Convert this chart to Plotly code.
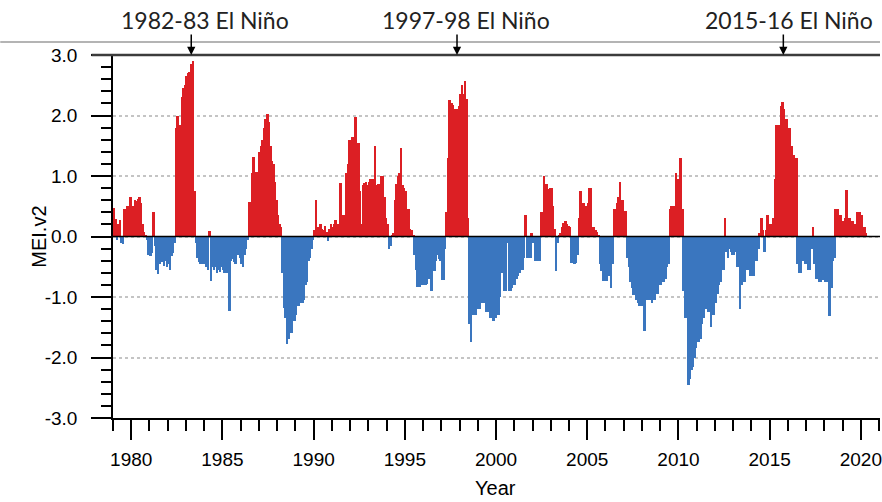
import numpy as np
import plotly.graph_objects as go

# Monthly MEI.v2 values, Jan..Dec of each year
mei_1979 = [0.47, 0.29, -0.05, 0.21, 0.27, -0.11, -0.13, 0.45, 0.38, 0.5, 0.45, 0.66]
mei_1980 = [0.35, 0.5, 0.6, 0.58, 0.62, 0.65, 0.55, 0.2, 0.08, 0.03, -0.05, -0.3]
mei_1981 = [-0.32, -0.28, 0.4, -0.15, -0.55, -0.62, -0.45, -0.3, -0.42, -0.48, -0.4, -0.5]
mei_1982 = [-0.45, -0.55, -0.33, -0.28, -0.1, 1.8, 2.0, 1.85, 1.85, 2.3, 2.45, 2.5]
mei_1983 = [2.65, 2.7, 2.72, 2.85, 2.9, 0.75, -0.1, -0.35, -0.42, -0.45, -0.42, -0.45]
mei_1984 = [-0.45, -0.5, -0.55, 0.09, -0.73, -0.5, -0.55, -0.5, -0.6, -0.55, -0.58, -0.5]
mei_1985 = [-0.55, -0.6, -0.5, -0.6, -1.23, -0.4, -0.38, -0.42, -0.45, -0.2, -0.3, -0.35]
mei_1986 = [-0.45, -0.5, -0.3, -0.2, -0.05, 0.57, 0.57, 1.05, 1.32, 1.05, 1.07, 1.07]
mei_1987 = [1.4, 1.5, 1.6, 1.8, 1.95, 2.03, 1.9, 1.5, 1.25, 1.2, 0.9, 0.6]
mei_1988 = [0.35, 0.2, 0.15, -0.6, -1.18, -1.35, -1.78, -1.7, -1.6, -1.6, -1.4, -1.4]
mei_1989 = [-1.3, -1.15, -1.15, -1.1, -1.1, -1.05, -0.8, -0.75, -0.4, -0.35, -0.2, -0.05]
mei_1990 = [0.1, 0.6, 0.15, 0.1, 0.2, 0.12, 0.1, 0.18, 0.08, -0.07, 0.12, 0.2]
mei_1991 = [0.15, 0.2, 0.27, 0.2, 0.2, 0.88, 0.35, 0.35, 0.3, 1.05, 1.2, 1.6]
mei_1992 = [1.6, 1.65, 1.65, 1.98, 1.55, 1.55, 0.75, 0.2, 0.85, 0.88, 0.9, 0.85]
mei_1993 = [0.9, 0.95, 0.95, 0.95, 1.5, 0.85, 0.87, 0.85, 1.0, 1.0, 0.65, 0.3]
mei_1994 = [0.2, -0.2, -0.15, 0.03, 0.05, 0.6, 0.87, 1.0, 1.05, 1.47, 0.85, 0.8]
mei_1995 = [0.75, 0.45, 0.45, 0.12, 0.1, 0.02, -0.3, -0.55, -0.84, -0.84, -0.8, -0.8]
mei_1996 = [-0.8, -0.8, -0.78, -0.7, -0.7, -0.9, -0.57, -0.57, -0.4, -0.3, -0.38, -0.4]
mei_1997 = [-0.72, -0.72, -0.2, 0.4, 1.3, 2.25, 2.2, 2.18, 2.1, 2.05, 2.1, 2.15]
mei_1998 = [2.35, 2.5, 2.35, 2.57, 2.28, 0.3, -1.45, -1.75, -1.3, -1.3, -1.3, -1.2]
mei_1999 = [-1.2, -1.2, -1.1, -1.1, -1.1, -1.25, -1.25, -1.25, -1.35, -1.35, -1.4, -1.35]
mei_2000 = [-1.25, -1.3, -1.0, -0.6, -0.57, -0.9, -0.9, -0.1, -0.9, -0.9, -0.85, -0.8]
mei_2001 = [-0.8, -0.7, -0.65, -0.6, -0.55, -0.55, -0.35, 0.35, -0.35, -0.3, -0.35, 0.05]
mei_2002 = [-0.1, -0.4, -0.4, -0.35, -0.4, 0.4, 0.4, 1.0, 0.87, 0.87, 0.78, 0.8]
mei_2003 = [0.8, 0.5, 0.12, -0.57, -0.1, 0.03, 0.05, 0.15, 0.22, 0.25, 0.2, 0.18]
mei_2004 = [0.15, -0.43, -0.4, -0.45, -0.43, -0.3, 0.3, 0.75, 0.55, 0.55, 0.5, 0.5]
mei_2005 = [0.55, 0.8, 0.8, 0.15, 0.15, 0.1, 0.08, 0.02, -0.45, -0.57, -0.73, -0.73]
mei_2006 = [-0.73, -0.65, -0.65, -0.85, -0.45, 0.45, 0.45, 0.55, 0.65, 0.9, 0.6, 0.6]
mei_2007 = [0.42, 0.42, -0.35, -0.5, -0.75, -0.85, -0.97, -0.97, -1.05, -1.1, -1.15, -1.15]
mei_2008 = [-1.15, -1.56, -1.05, -1.05, -1.0, -1.05, -1.1, -1.05, -1.05, -0.95, -0.95, -0.8]
mei_2009 = [-0.8, -0.75, -0.75, -0.7, -0.5, -0.45, 0.45, 0.5, 0.5, 0.5, 1.05, 0.95]
mei_2010 = [0.95, 1.3, 0.45, -0.9, -1.34, -1.34, -2.45, -2.35, -2.2, -2.15, -2.0, -1.85]
mei_2011 = [-1.75, -1.75, -1.7, -1.45, -1.35, -1.2, -1.2, -1.25, -1.25, -1.5, -1.3, -1.3]
mei_2012 = [-1.1, -0.95, -0.8, -0.75, -0.55, -0.55, 0.3, -0.25, -0.35, -0.2, -0.25, -0.3]
mei_2013 = [-0.3, -0.25, -0.5, -0.5, -1.2, -0.8, -0.75, -0.75, -0.55, -0.55, -0.55, -0.65]
mei_2014 = [-0.65, -0.65, -0.4, -0.4, -0.2, 0.05, 0.3, 0.1, -0.25, 0.1, 0.35, 0.2]
mei_2015 = [0.2, 0.15, 0.3, 0.95, 1.85, 1.85, 1.85, 2.15, 2.22, 2.1, 1.95, 1.95]
mei_2016 = [1.8, 1.8, 1.5, 1.35, 1.3, 1.3, -0.45, -0.6, -0.6, -0.4, -0.4, -0.45]
mei_2017 = [-0.45, -0.55, -0.55, -0.2, 0.15, -0.45, -0.7, -0.7, -0.75, -0.75, -0.72, -0.72]
mei_2018 = [-0.75, -0.75, -0.75, -1.32, -0.85, -0.4, -0.35, 0.45, 0.45, 0.35, 0.35, 0.25]
mei_2019 = [0.25, 0.3, 0.77, 0.3, 0.3, 0.25, 0.25, 0.2, 0.2, 0.4, 0.4, 0.4]
mei_2020 = [0.35, 0.15, 0.15, 0.05]

start_year = 1979
year_ticks = [1980, 1985, 1990, 1995, 2000, 2005, 2010, 2015, 2020]
mei_ticks = [-3, -2, -1, 0, 1, 2, 3]

event_labels = ["1982-83 El Niño", "1997-98 El Niño", "2015-16 El Niño"]
event_arrow_x = [1983.29, 1997.86, 2015.75]
event_label_x = [1984.06, 1998.36, 2016.05]

series = [mei_1979, mei_1980, mei_1981, mei_1982, mei_1983, mei_1984, mei_1985,
          mei_1986, mei_1987, mei_1988, mei_1989, mei_1990, mei_1991, mei_1992,
          mei_1993, mei_1994, mei_1995, mei_1996, mei_1997, mei_1998, mei_1999,
          mei_2000, mei_2001, mei_2002, mei_2003, mei_2004, mei_2005, mei_2006,
          mei_2007, mei_2008, mei_2009, mei_2010, mei_2011, mei_2012, mei_2013,
          mei_2014, mei_2015, mei_2016, mei_2017, mei_2018, mei_2019, mei_2020]
values = np.concatenate([np.asarray(v, dtype=float) for v in series])
months = np.arange(values.size)
time = start_year + (months + 0.5) / 12.0

RED = "#dc1f24"
BLUE = "#3a76bf"
colors = [RED if v >= 0 else BLUE for v in values]

# bars slightly wider than a month so neighbours overlap without seams
fig = go.Figure(go.Bar(
    x=time, y=values, width=1.7 / 12.0,
    marker=dict(color=colors, line=dict(width=0)),
    hoverinfo="x+y",
))

tick_font = dict(family="Liberation Sans, Arial, sans-serif", size=19, color="black")

fig.update_layout(
    width=882, height=502,
    margin=dict(l=113, r=0, t=55, b=84),
    paper_bgcolor="white", plot_bgcolor="white",
    bargap=0, showlegend=False,
    font=tick_font,
)

fig.update_xaxes(
    range=[1979.0, 2021.05],
    tickmode="array", tickvals=year_ticks, ticktext=[str(y) for y in year_ticks],
    ticks="outside", ticklen=20, tickwidth=1.5, tickcolor="black",
    ticklabelstandoff=3, ticklabeloverflow="allow",
    minor=dict(tick0=1979, dtick=1, ticks="outside", ticklen=11,
               tickwidth=1.5, tickcolor="black", showgrid=False),
    showline=True, linecolor="black", linewidth=1.5,
    showgrid=False, zeroline=False,
    tickfont=tick_font,
)

fig.update_yaxes(
    range=[-3, 3],
    tickmode="array", tickvals=mei_ticks,
    ticktext=[f"{t:.1f}" for t in mei_ticks],
    ticks="outside", ticklen=20, tickwidth=1.5, tickcolor="black",
    ticklabelstandoff=10,
    minor=dict(dtick=0.2, ticks="outside", ticklen=10, tickwidth=1.5,
               tickcolor="black", showgrid=False),
    showline=True, linecolor="black", linewidth=1.5,
    showgrid=True, gridcolor="#c4c4c4", griddash="dot", gridwidth=1.5,
    zeroline=False,
    tickfont=tick_font,
)

shapes = [
    # zero line drawn over the bars
    dict(type="line", xref="paper", yref="y", x0=0, x1=1, y0=0, y1=0,
         line=dict(color="black", width=1.5), layer="above"),
    # heavy frame line along the top of the plot
    dict(type="line", xref="paper", yref="paper", x0=-0.028, x1=1, y0=1, y1=1,
         line=dict(color="#3c3c3c", width=2.5), layer="above"),
    # thin separator above the plot
    dict(type="line", xref="paper", yref="paper", x0=-0.147, x1=1,
         y0=1.0358, y1=1.0358, line=dict(color="#b4b4b4", width=2)),
]
fig.update_layout(shapes=shapes)

annotations = []
for label, xa, xl in zip(event_labels, event_arrow_x, event_label_x):
    annotations.append(dict(
        x=xl, y=1.0964, xref="x", yref="paper", text=label, showarrow=False,
        xanchor="center", yanchor="middle",
        font=dict(family="Lato, Noto Sans, sans-serif", size=23, color="#222"),
    ))
    annotations.append(dict(
        x=xa, y=1.0, xref="x", yref="paper", text="", showarrow=True,
        ax=0, ay=-22, axref="pixel", ayref="pixel",
        arrowhead=2, arrowsize=1.1, arrowwidth=1.5, arrowcolor="black",
        standoff=0,
    ))

annotations.append(dict(
    x=0.4993, y=-0.1928, xref="paper", yref="paper", text="Year",
    showarrow=False, xanchor="center", yanchor="middle",
    font=dict(family="Liberation Sans, Arial, sans-serif", size=20, color="black"),
))
annotations.append(dict(
    x=-0.0975, y=0.5, xref="paper", yref="paper", text="MEI.v2",
    showarrow=False, xanchor="center", yanchor="middle", textangle=-90,
    font=dict(family="Liberation Sans, Arial, sans-serif", size=20, color="black"),
))
fig.update_layout(annotations=annotations)

fig.write_html("out.html")
